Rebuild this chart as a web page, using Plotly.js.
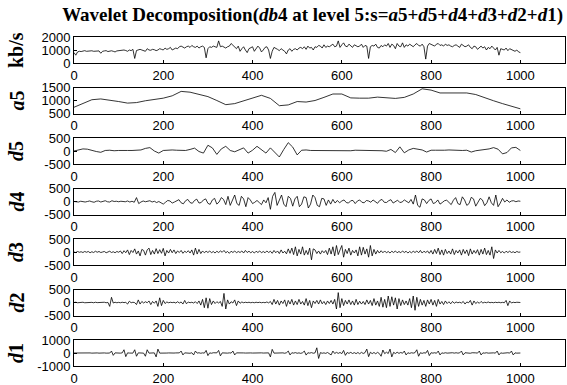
<!DOCTYPE html>
<html>
<head>
<meta charset="utf-8">
<script src="https://cdn.plot.ly/plotly-3.0.1.min.js"></script>
<style>html,body{margin:0;padding:0;background:#fff;}#chart{width:567px;height:385px;}</style>
</head>
<body>
<div id="chart"></div>
<script>
// ---- data (sample index step noted per series) ----
const xTicks = [0, 200, 400, 600, 800, 1000];
const panelLabels = ["kb/s", "<i>a</i>5", "<i>d</i>5", "<i>d</i>4", "<i>d</i>3", "<i>d</i>2", "<i>d</i>1"];

// original signal s (kb/s), every 4 samples
const sStep = 4;
const sValues = [
 800,600,850,900,880,920,950,900,930,960,940,900,920,950,930,750,900,930,950,880,920,940,900,850,930,
 950,920,980,1000,960,900,1000,950,1050,350,960,1000,1050,1000,950,900,1100,1000,980,1050,1020,950,1000,1100,1050,
 1000,1150,1050,1100,1200,1000,1050,1150,1100,1250,1300,1200,1150,1250,1300,1200,1350,1250,1200,1300,1150,1250,1300,1200,400,
 1100,1250,1200,1300,1250,1200,1700,1250,1300,1200,1150,1250,1300,1500,1350,1200,1100,1300,900,1100,1250,1000,800,1100,1200,
 1250,900,1100,1300,1150,850,1000,1200,1250,1000,350,900,1200,1150,1050,950,1100,1000,900,700,1000,1100,900,1050,1100,
 1000,1150,1200,1100,1250,1050,1300,1150,1200,1000,1250,1200,1350,1300,1150,1400,1200,1300,1250,1350,1450,1250,1300,1700,1200,
 1400,1550,1300,1250,1450,1300,1200,1400,1350,1250,1300,1450,1200,1350,1300,350,1250,1350,1300,1450,1200,1150,1350,1250,1400,
 1300,1500,1200,1450,1350,1100,1500,1300,1250,1550,1200,1400,1300,1450,1350,1250,1400,1500,1350,1300,1450,1250,300,1300,1500,
 1450,1400,1300,1450,1500,1350,1400,1300,1450,1350,1400,1300,1250,1350,1400,1300,1200,1450,1350,1250,1300,1400,1200,1100,1300,
 1250,1050,1200,1300,1150,1250,1000,1200,1100,1300,1150,1000,1200,600,1100,1050,1000,1150,950,1100,1050,1000,900,1000,850,
 800];

// approximation a5, every 20 samples
const a5Step = 20;
const a5Values = [740,870,1030,1060,1020,960,900,920,990,1050,1090,1180,1350,1320,1240,1150,1000,840,880,980,
 1080,1200,1080,800,830,960,940,1000,1120,1250,1250,1100,1090,1090,1130,1110,1080,1120,1250,1450,
 1400,1290,1290,1290,1290,1230,1100,990,880,780,680];

// detail d5, every 10 samples
const d5Step = 10;
const d5Values = [0,30,80,70,20,-20,-50,20,30,10,
 20,30,20,20,30,40,100,130,0,-80,
 20,40,40,30,20,20,60,110,-20,-80,
 220,120,-130,80,180,20,-30,50,120,-80,
 30,180,60,-80,120,-50,-230,60,320,150,
 -150,30,40,20,20,20,0,10,20,10,
 20,20,10,30,30,20,20,30,30,10,
 -10,60,-60,160,-70,40,100,80,40,-40,
 30,30,20,30,40,30,20,20,30,-40,
 10,30,50,80,130,70,-110,-60,120,140,20];

// detail d4, every 5 samples
const d4Step = 5;
const d4Values = [
 0,-10,-20,10,0,-20,0,20,-10,-30,10,20,-20,0,30,-10,-20,30,0,10,
 -10,10,0,-10,20,-20,10,-30,150,-80,-20,20,-10,0,30,-20,10,-40,0,-50,
 -100,-30,40,20,-60,-20,40,70,-50,-90,30,80,-40,-70,40,90,-60,-40,60,100,
 -70,-110,60,120,-100,-20,150,80,-120,200,-150,80,250,-80,-150,200,100,-200,150,60,
 -80,-30,40,-40,-120,60,-50,150,-300,200,350,-150,50,250,-100,-200,200,120,-180,100,
 200,-200,-100,180,150,-250,-100,250,150,-150,-200,120,100,-150,60,-100,80,-60,40,-50,
 20,60,-40,-60,30,40,-80,20,60,-30,-50,40,20,-30,60,-20,-70,40,80,-30,
 -40,30,70,-60,-20,50,-40,-20,60,20,-50,80,-100,250,-150,-220,100,60,-80,40,
 100,-80,-40,60,-100,-40,30,50,-30,-120,50,150,-80,-120,180,60,-150,-80,160,100,
 -180,-50,120,60,-160,-50,180,-50,-150,250,-200,-60,120,-20,60,-30,20,30,-10,20,
 10];

// detail d3, every 4 samples
const d3Step = 4;
const d3Values = [
 0,-20,20,-10,10,-20,20,-10,20,-30,10,-20,30,-10,20,-20,0,20,-30,10,30,-20,10,-30,20,
 -10,40,-60,50,-30,80,-100,60,-20,120,-80,40,-150,100,60,-120,80,150,-100,60,-80,130,-60,90,-50,
 140,-150,60,-40,100,-30,80,-60,40,-20,60,-50,30,-20,50,-40,80,-120,150,-80,100,-60,40,-30,30,
 -20,40,-30,20,-40,30,-20,40,-10,60,-30,20,-50,30,-20,40,-30,20,-20,40,-40,60,-20,30,-30,
 20,-40,30,-20,40,-30,20,-30,40,-20,30,-50,60,-30,40,-60,80,-40,30,-70,120,-50,150,-100,200,
 -150,100,-80,200,-120,60,-100,150,-300,120,80,-60,40,-80,50,-30,60,-100,150,-80,200,-150,250,-100,80,
 250,-200,100,-60,150,-120,60,-40,80,-150,200,-120,180,-80,120,-200,250,-150,100,-80,60,-40,50,-30,40,
 -30,20,-40,30,-20,40,-30,20,-30,40,-20,30,-40,20,-30,30,-20,40,-30,60,-40,30,-20,40,-50,
 60,-80,100,-60,150,-100,80,-120,100,-60,40,-80,120,-100,60,-40,80,-120,100,-60,80,-140,120,-80,60,
 -50,90,-120,100,-80,150,-100,60,-120,200,-250,80,-40,60,-30,20,-40,30,-20,30,-20,10,-30,20,-10,
 0];

// detail d2, every 4 samples
const d2Step = 4;
const d2Values = [
 0,10,-10,5,-5,10,-10,0,10,-5,5,-10,10,-5,5,-10,0,10,-10,5,-150,200,-20,10,-10,
 5,-10,10,-5,5,-60,50,-10,10,-5,-80,100,-60,40,-20,30,-10,60,-80,40,-30,60,-150,180,-120,
 80,-40,20,-10,10,-5,10,-20,30,-20,20,-60,80,-50,20,-10,10,-20,30,-40,60,-100,120,-200,180,
 -220,150,-80,60,-40,30,-20,40,-150,350,-250,100,-60,30,-20,100,-120,60,-30,20,-10,10,-5,10,-10,
 5,-10,10,-5,10,-10,5,-10,20,-15,40,-80,120,-60,80,-100,60,-40,100,-150,80,-60,120,-100,60,
 -80,120,-60,40,-100,150,-120,80,-200,60,-40,80,-60,100,-50,40,-80,60,-40,80,-60,120,-250,380,-200,
 150,-120,80,-60,100,-80,60,-100,120,-80,50,-60,40,-80,100,-60,80,-120,150,-100,60,-150,200,-180,120,
 -200,250,-150,220,-100,180,-250,150,-120,100,-80,60,-100,150,-200,250,-300,200,-150,120,-100,80,-150,100,-60,
 120,-100,80,-150,120,-60,40,-80,60,-40,30,-50,40,-30,20,-10,10,-20,40,-60,20,-10,80,-100,60,
 -40,20,-30,40,-20,10,-10,20,-10,5,-10,10,-5,10,-10,5,-10,80,-120,60,-20,10,-5,10,0,
 0];

// detail d1, every 4 samples
const d1Step = 4;
const d1Values = [
 0,5,-5,5,-10,5,-5,10,-5,5,-10,5,-5,5,-10,10,-5,5,-10,5,-5,150,-180,10,-5,
 5,-10,10,250,-280,10,-5,10,-10,250,-250,10,-5,5,-10,-250,250,-10,5,-5,10,-300,300,-10,5,
 -5,10,-5,5,-10,10,-5,5,-10,10,150,-150,10,-5,10,-20,20,-150,150,-10,20,-20,10,-10,200,
 -200,10,-20,20,-10,10,200,-220,10,-10,5,-10,10,-5,150,-150,10,-5,5,-10,5,-5,10,-5,5,
 -5,5,-10,5,-5,10,-5,5,-10,10,-300,280,-10,5,-10,10,-5,10,-20,20,150,-150,20,-10,30,
 -20,10,-30,20,150,-160,20,-10,30,-20,10,400,-420,30,-20,10,-30,40,-30,-150,150,-40,50,-30,40,
 -50,200,-180,40,-30,50,-40,30,-50,40,-60,50,-40,30,300,-280,60,-50,40,-60,50,-40,-250,230,-50,
 60,-40,300,-300,50,-40,60,-30,40,-20,150,-150,20,-30,20,-10,30,250,-250,20,-30,20,-10,200,-200,
 20,-10,20,-20,150,-150,10,-20,20,-10,10,-20,20,-10,20,-10,10,150,-150,20,-10,10,-20,20,-10,
 10,-10,150,-150,10,-10,20,-10,10,-20,10,-10,150,-150,10,-20,10,-10,20,-10,150,-150,10,-10,5,
 0];

const yRanges = [[0,2000],[500,1500],[-500,500],[-500,500],[-500,500],[-500,500],[-1000,1000]];
const yTickVals = [[0,1000,2000],[500,1000,1500],[-500,0,500],[-500,0,500],[-500,0,500],[-500,0,500],[-1000,0,1000]];

// ---- build ----
const series = [
  [sValues, sStep], [a5Values, a5Step], [d5Values, d5Step], [d4Values, d4Step],
  [d3Values, d3Step], [d2Values, d2Step], [d1Values, d1Step]
];

const W = 567, H = 385;
const M = {l: 74, r: 2, t: 37, b: 19};
const plotH = H - M.t - M.b;
const plotW = W - M.l - M.r;
const boxH = 26, spacing = (plotH - boxH) / 6;
const tickFont = {family: 'Liberation Sans, Arial, sans-serif', size: 13, color: '#000'};

const traces = [];
const layout = {
  width: W, height: H,
  margin: M,
  paper_bgcolor: '#fff', plot_bgcolor: '#fff',
  showlegend: false,
  font: {family: 'Liberation Sans, Arial, sans-serif', size: 13, color: '#000'},
  title: {
    text: '<b>Wavelet Decomposition(<i>db</i>4 at level 5:s=<i>a</i>5+<i>d</i>5+<i>d</i>4+<i>d</i>3+<i>d</i>2+<i>d</i>1)</b>',
    font: {family: 'Liberation Serif, Times New Roman, serif', size: 19, color: '#000'},
    x: (563 - M.l) / plotW, xanchor: 'right', xref: 'paper',
    y: 1 - 14 / H, yanchor: 'middle', yref: 'container'
  },
  annotations: []
};

series.forEach((s, i) => {
  const n = i + 1;
  const xa = n === 1 ? 'xaxis' : 'xaxis' + n;
  const ya = n === 1 ? 'yaxis' : 'yaxis' + n;
  traces.push({
    type: 'scatter', mode: 'lines',
    x0: 0, dx: s[1], y: s[0],
    xaxis: 'x' + (n === 1 ? '' : n), yaxis: 'y' + (n === 1 ? '' : n),
    line: {color: '#000', width: 0.8},
    hoverinfo: 'skip'
  });
  const top = 1 - (i * spacing) / plotH;
  const bot = top - boxH / plotH;
  layout[xa] = {
    domain: [0, 1], anchor: 'y' + (n === 1 ? '' : n),
    range: [0, 1100], tickvals: xTicks, ticktext: xTicks.map(String),
    ticks: 'inside', ticklen: 3, tickwidth: 1, tickcolor: '#000',
    showline: true, mirror: true, linecolor: '#000', linewidth: 1,
    showgrid: false, zeroline: false, fixedrange: true,
    tickfont: tickFont
  };
  layout[ya] = {
    domain: [bot, top], anchor: 'x' + (n === 1 ? '' : n),
    range: yRanges[i], tickvals: yTickVals[i], ticktext: yTickVals[i].map(String),
    ticks: 'inside', ticklen: 3, tickwidth: 1, tickcolor: '#000',
    showline: true, mirror: true, linecolor: '#000', linewidth: 1,
    showgrid: false, zeroline: false, fixedrange: true,
    tickfont: tickFont
  };
  layout.annotations.push({
    text: '<b>' + panelLabels[i] + '</b>',
    xref: 'paper', yref: 'paper',
    x: (16 - M.l) / plotW, y: (top + bot) / 2,
    xanchor: 'center', yanchor: 'middle', textangle: -90, showarrow: false,
    font: {family: 'Liberation Serif, Times New Roman, serif', size: 20, color: '#000'}
  });
});

Plotly.newPlot('chart', traces, layout, {displayModeBar: false, staticPlot: true});
</script>
</body>
</html>
